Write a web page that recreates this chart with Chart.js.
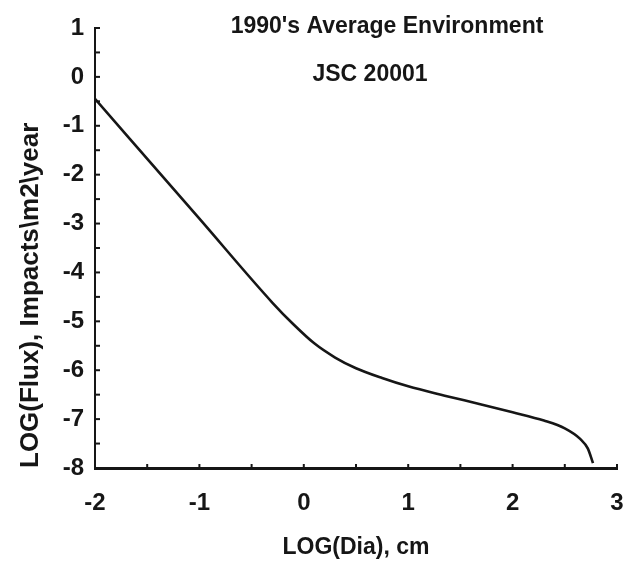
<!DOCTYPE html>
<html lang="en">
<head>
<meta charset="UTF-8">
<title>1990's Average Environment</title>
<script src="https://cdn.jsdelivr.net/npm/chart.js"></script>
<style>
  html, body { margin: 0; padding: 0; background: #fff; }
  #wrap { width: 625px; height: 574px; }
</style>
</head>
<body>
<div id="wrap"><canvas id="fluxChart"></canvas></div>
<script>
// LOG(diameter, cm) vs LOG(flux, impacts/m2/year)
const logDia  = [-2, -1, -0.3, -0.1, 0.1, 0.3, 0.5, 0.75, 1.0, 1.35, 1.7, 2.0, 2.3, 2.5, 2.65, 2.72, 2.77];
const logFlux = [-0.45, -2.9, -4.62, -5.06, -5.45, -5.74, -5.96, -6.16, -6.33, -6.52, -6.7, -6.86, -7.03, -7.19, -7.41, -7.6, -7.9];

const xTicks = [-2, -1, 0, 1, 2, 3];
const yTicks = [1, 0, -1, -2, -3, -4, -5, -6, -7, -8];

const titleLines = ["1990's Average Environment", 'JSC 20001'];

const ink = '#161616';
const family = '"Liberation Sans", Arial, sans-serif';

// small tick marks pointing into the plot, every half unit
const innerTicks = {
    id: 'innerTicks',
    afterDatasetsDraw(chart) {
        const { ctx, scales: { x, y } } = chart;
        ctx.save();
        ctx.strokeStyle = ink;
        ctx.lineWidth = 2;
        y.ticks.forEach(t => {
            const py = y.getPixelForValue(t.value);
            ctx.beginPath();
            ctx.moveTo(y.right, py);
            ctx.lineTo(y.right + 5, py);
            ctx.stroke();
        });
        x.ticks.forEach(t => {
            const px = x.getPixelForValue(t.value);
            ctx.beginPath();
            ctx.moveTo(px, x.top);
            ctx.lineTo(px, x.top - 4);
            ctx.stroke();
        });
        ctx.restore();
    }
};

// the two title lines sit inside the plot area
const innerTitle = {
    id: 'innerTitle',
    afterDraw(chart) {
        const ctx = chart.ctx;
        ctx.save();
        ctx.fillStyle = ink;
        ctx.font = 'bold 23px ' + family;
        ctx.textAlign = 'center';
        ctx.textBaseline = 'middle';
        ctx.fillText(titleLines[0], 387, 27);
        ctx.fillText(titleLines[1], 370, 75);
        ctx.restore();
    }
};

const ctx = document.getElementById('fluxChart').getContext('2d');
new Chart(ctx, {
    type: 'line',
    data: {
        datasets: [{
            data: logDia.map((d, i) => ({ x: d, y: logFlux[i] })),
            borderColor: ink,
            borderWidth: 2.6,
            pointRadius: 0,
            fill: false,
            cubicInterpolationMode: 'monotone'
        }]
    },
    options: {
        responsive: true,
        maintainAspectRatio: false,
        animation: false,
        layout: { padding: { top: 28, right: 8, left: 0, bottom: 0 } },
        plugins: {
            legend: { display: false },
            tooltip: { enabled: false }
        },
        scales: {
            x: {
                type: 'linear',
                min: -2,
                max: 3,
                afterFit(scale) { scale.height = 106; },
                // invisible outer tick marks only push the labels down
                grid: { display: true, drawOnChartArea: false, drawTicks: true, tickLength: 21, color: 'rgba(0,0,0,0)' },
                border: { display: true, color: ink, width: 3 },
                ticks: {
                    stepSize: 0.5,
                    autoSkip: false,
                    maxRotation: 0,
                    padding: 0,
                    color: ink,
                    font: { family: family, size: 24, weight: 'bold' },
                    callback: v => xTicks.includes(v) ? String(v) : ''
                },
                title: {
                    display: true,
                    text: 'LOG(Dia), cm',
                    color: ink,
                    font: { family: family, size: 23, weight: 'bold' },
                    padding: { top: 0, bottom: 13 }
                }
            },
            y: {
                type: 'linear',
                min: -8,
                max: 1,
                afterFit(scale) { scale.width = 95; },
                grid: { display: false, drawTicks: false },
                border: { display: true, color: ink, width: 2 },
                ticks: {
                    stepSize: 0.5,
                    autoSkip: false,
                    padding: 11,
                    color: ink,
                    font: { family: family, size: 24, weight: 'bold' },
                    callback: v => yTicks.includes(v) ? String(v) : ''
                },
                title: {
                    display: true,
                    text: 'LOG(Flux), Impacts\\m2\\year',
                    align: 'start',
                    color: ink,
                    font: { family: family, size: 26, weight: 'bold' },
                    padding: { top: 15, bottom: 0 }
                }
            }
        }
    },
    plugins: [innerTicks, innerTitle]
});
</script>
</body>
</html>
